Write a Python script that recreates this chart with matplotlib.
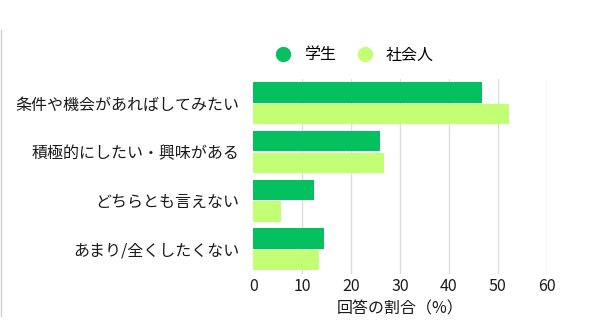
import matplotlib
matplotlib.use("Agg")
import matplotlib.pyplot as plt
from matplotlib.lines import Line2D
import numpy as np

plt.rcParams['font.family'] = ['Noto Sans CJK JP', 'DejaVu Sans']

categories = ["条件や機会があればしてみたい", "積極的にしたい・興味がある", "どちらとも言えない", "あまり/全くしたくない"]
students = [46.8, 25.9, 12.5, 14.5]
workers = [52.2, 26.7, 5.6, 13.5]
series_names = ["学生", "社会人"]
xticks = [0, 10, 20, 30, 40, 50, 60]
xlabel = "回答の割合（%）"

c_student = "#05c05f"
c_worker = "#c3ff75"
txt = "#1a1a1a"
fs = 11.5

fig = plt.figure(figsize=(5.9, 3.33), dpi=100)
ax = fig.add_axes([0.4293, 0.178, 0.4973, 0.585])

y = np.arange(len(categories))
h = 0.42
off = 0.222
ax.barh(y - off, students, height=h, color=c_student, zorder=3)
ax.barh(y + off, workers, height=h, color=c_worker, zorder=3)

ax.set_ylim(3.5, -0.5)
ax.set_xlim(0, 60)
ax.set_yticks(y)
ax.set_yticklabels(categories, fontsize=fs, color=txt)
ax.set_xticks(xticks)
ax.set_xticklabels([str(t) for t in xticks], fontsize=fs, color=txt)
ax.tick_params(axis='both', length=0)
ax.tick_params(axis='y', pad=10)
ax.tick_params(axis='x', pad=3)
ax.grid(axis='x', color="#dddddd", linewidth=1, zorder=0)
ax.get_xgridlines()[0].set_visible(False)
for s in ax.spines.values():
    s.set_visible(False)
ax.set_xlabel(xlabel, fontsize=fs, color=txt, labelpad=4)

handles = [Line2D([], [], marker='o', linestyle='none', markersize=10, color=c_student),
           Line2D([], [], marker='o', linestyle='none', markersize=10, color=c_worker)]
fig.legend(handles, series_names, loc='center', bbox_to_anchor=(0.594, 0.835), ncol=2,
           frameon=False, fontsize=fs, handletextpad=0.3, columnspacing=0.8)

fig.add_artist(Line2D([0.002, 0.002], [0.05, 0.91], transform=fig.transFigure,
                      color="#d0d0d0", linewidth=1))

fig.savefig("out.png", dpi=100)
